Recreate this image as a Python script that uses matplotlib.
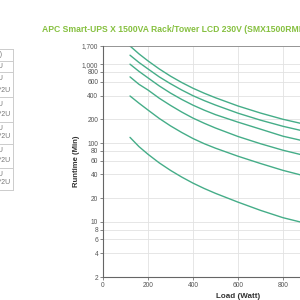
import matplotlib.pyplot as plt
from matplotlib.ticker import FixedLocator, FuncFormatter, NullLocator

plt.rcParams["font.family"] = ["Liberation Sans", "DejaVu Sans"]

load = [120, 160, 200, 250, 300, 350, 400, 450, 500, 600, 700, 800, 900, 1000, 1100, 1200]

runtime_1 = [1700, 1350, 1100, 870, 705, 585, 495, 428, 375, 295, 240, 200, 172, 150, 133, 118]
runtime_2 = [1300, 1050, 870, 690, 565, 470, 398, 345, 303, 239, 195, 163, 140, 122, 108, 96]
runtime_3 = [1000, 810, 670, 530, 430, 357, 302, 261, 229, 184, 150, 122, 105, 91, 80, 70]
runtime_4 = [690, 555, 470, 370, 300, 247, 207, 178, 155, 121, 98, 81, 69, 60, 52, 46]
runtime_5 = [395, 320, 262, 205, 165, 136, 114, 98, 86, 68, 55, 45, 38, 33, 29, 25]
runtime_6 = [118, 90, 72, 56, 45, 37, 31, 26.5, 23, 17.8, 14, 11.3, 9.6, 8.4, 7.4, 6.5]

y_ticks = [2, 4, 6, 8, 10, 20, 40, 60, 80, 100, 200, 400, 600, 800, 1000, 1700]
x_ticks = [0, 200, 400, 600, 800, 1000, 1200]

table_header = "Configuration (Battery)"
table_line1 = ["SMX1500RMI2U", "SMX1500RMI2U", "SMX1500RMI2U", "SMX1500RMI2U",
               "SMX1500RMI2U", "SMX1500RMI2U"]
table_line2 = ["", "+ 1 x SMX120RMBP2U", "+ 2 x SMX120RMBP2U", "+ 3 x SMX120RMBP2U",
               "+ 4 x SMX120RMBP2U", "+ 5 x SMX120RMBP2U"]

fig = plt.figure(figsize=(3, 3), dpi=100)
ax = fig.add_axes([103/300, 23/300, 270/300, 231/300])

for r in [runtime_1, runtime_2, runtime_3, runtime_4, runtime_5, runtime_6]:
    ax.plot(load, r, color="#45ad88", lw=1.0, solid_capstyle="round", solid_joinstyle="round")

ax.set_yscale("log")
ax.set_ylim(2, 1700)
ax.set_xlim(0, 1200)
ax.yaxis.set_major_locator(FixedLocator(y_ticks))
ax.yaxis.set_minor_locator(NullLocator())
ax.yaxis.set_major_formatter(FuncFormatter(lambda v, p: f"{int(v):,}"))
ax.set_xticks(x_ticks)
ax.grid(True, color="#e2e2e2", lw=0.6)
ax.tick_params(labelsize=4.8, length=2, width=0.5, colors="#555555", pad=1.5)
for s in ["top", "right"]:
    ax.spines[s].set_visible(False)
for s in ["left", "bottom"]:
    ax.spines[s].set_color("#666666")
    ax.spines[s].set_linewidth(0.8)
ax.axhline(1700, color="#888888", lw=0.6)

ax.set_ylabel("Runtime (Min)", fontsize=5.6, fontweight="bold", color="#333333", labelpad=1.5)
ax.set_xlabel("Load (Watt)", fontsize=5.8, fontweight="bold", color="#333333", labelpad=3)

fig.text(42/300, 1 - 30/300, "APC Smart-UPS X 1500VA Rack/Tower LCD 230V (SMX1500RMI2U)",
         fontsize=6.2, fontweight="bold", color="#86c040", ha="left", va="center")

# left table, mostly cut off by the image edge
row_edges = [49, 61, 72, 97, 122, 144, 168, 190]
for y in row_edges:
    fig.add_artist(plt.Line2D([0, 13/300], [1 - y/300, 1 - y/300], color="#cccccc", lw=0.7))
fig.add_artist(plt.Line2D([13/300, 13/300], [1 - 49/300, 1 - 190/300], color="#cccccc", lw=0.7))
fig.text(2/300, 1 - 55/300, table_header, fontsize=5, color="#777777", ha="right", va="center")
for i in range(len(table_line1)):
    top, bot = row_edges[i + 1], row_edges[i + 2]
    if table_line2[i]:
        fig.text(4/300, 1 - (top + 7)/300, table_line1[i], fontsize=5, color="#777777",
                 ha="right", va="center")
        fig.text(10/300, 1 - (bot - 7)/300, table_line2[i], fontsize=5, color="#777777",
                 ha="right", va="center")
    else:
        fig.text(4/300, 1 - (top + bot)/2/300, table_line1[i], fontsize=5, color="#777777",
                 ha="right", va="center")

fig.savefig("out.png", dpi=100)
